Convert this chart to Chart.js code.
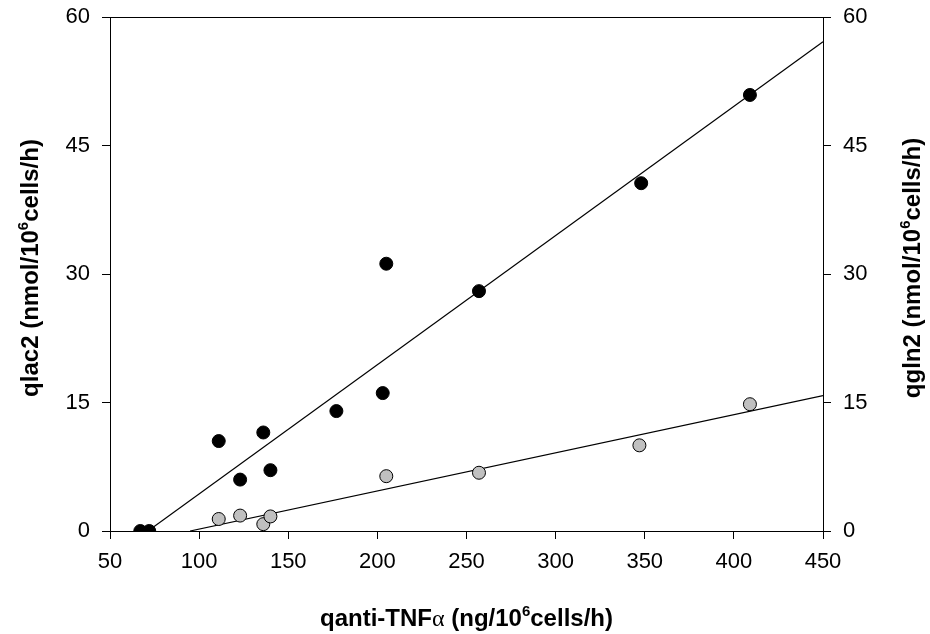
<!DOCTYPE html>
<html>
<head>
<meta charset="utf-8">
<script src="https://cdn.jsdelivr.net/npm/chart.js@4"></script>
<style>
  html, body { margin: 0; padding: 0; background: #fff; }
  #wrap { width: 930px; height: 634px; }
</style>
</head>
<body>
<div id="wrap"><canvas id="grafico" width="930" height="634"></canvas></div>
<script>
// dados
const xLac = [67, 72, 111, 123, 136, 140, 177, 203, 205, 257, 348, 409];
const yLac = [0, 0, 10.5, 6, 11.5, 7.1, 14, 16.1, 31.2, 28, 40.6, 50.9];
const xGln = [111, 123, 136, 140, 205, 257, 347, 409];
const yGln = [1.4, 1.8, 0.8, 1.7, 6.4, 6.8, 10, 14.8];

// retas de regressão (extremos)
const lacFitX = [71.3, 450];
const lacFitY = [0, 57.1];
const glnFitX = [94.9, 450];
const glnFitY = [0, 15.8];

const xTicks = [50, 100, 150, 200, 250, 300, 350, 400, 450];
const yTicks = [0, 15, 30, 45, 60];

const pares = (xs, ys) => xs.map((x, i) => ({ x, y: ys[i] }));

const fonteTick = { family: '"Liberation Sans", Arial, sans-serif', size: 22 };
const fonteTitulo = 'bold 24px "Liberation Sans", Arial, sans-serif';
const fonteSup = 'bold 15px "Liberation Sans", Arial, sans-serif';
const fonteAlfa = '24px "Liberation Serif", serif';

// texto com expoente
function textoRico(ctx, partes, x, y, rot) {
  ctx.save();
  ctx.translate(x, y);
  ctx.rotate(rot);
  ctx.fillStyle = '#000';
  ctx.textBaseline = 'alphabetic';
  ctx.textAlign = 'left';
  let total = 0;
  partes.forEach(p => { ctx.font = p.font; total += ctx.measureText(p.t).width; });
  let cx = -total / 2;
  partes.forEach(p => {
    ctx.font = p.font;
    ctx.fillText(p.t, cx, p.dy || 0);
    cx += ctx.measureText(p.t).width;
  });
  ctx.restore();
}

const titulos = {
  id: 'titulos',
  afterDraw(chart) {
    const { ctx, chartArea: a } = chart;
    ctx.save();
    ctx.strokeStyle = '#000';
    ctx.lineWidth = 1;
    ctx.strokeRect(a.left + 0.5, a.top + 0.5, a.right - a.left, a.bottom - a.top);
    ctx.restore();
    const meioY = (a.top + a.bottom) / 2 - 6;
    const meioX = (a.left + a.right) / 2;
    textoRico(ctx, [
      { t: 'qanti-TNF', font: fonteTitulo },
      { t: 'α', font: fonteAlfa },
      { t: ' (ng/10', font: fonteTitulo },
      { t: '6', font: fonteSup, dy: -10 },
      { t: 'cells/h)', font: fonteTitulo }
    ], meioX, 626, 0);
    textoRico(ctx, [
      { t: 'qlac2 (nmol/10', font: fonteTitulo },
      { t: '6', font: fonteSup, dy: -10 },
      { t: 'cells/h)', font: fonteTitulo }
    ], 38, meioY, -Math.PI / 2);
    textoRico(ctx, [
      { t: 'qgln2 (nmol/10', font: fonteTitulo },
      { t: '6', font: fonteSup, dy: -10 },
      { t: 'cells/h)', font: fonteTitulo }
    ], 920, meioY, -Math.PI / 2);
  }
};

const eixoY = (pos, largura) => ({
  type: 'linear',
  position: pos,
  min: 0,
  max: 60,
  afterBuildTicks: s => { s.ticks = yTicks.map(v => ({ value: v })); },
  ticks: { font: fonteTick, color: '#000', padding: 12 },
  grid: { drawOnChartArea: false, tickLength: 8, color: '#000' },
  border: { color: '#000', width: 1 },
  afterFit: s => { s.width = largura; s.paddingTop = 0; s.paddingBottom = 0; }
});

new Chart(document.getElementById('grafico').getContext('2d'), {
  type: 'scatter',
  data: {
    datasets: [
      {
        label: 'qlac2',
        data: pares(xLac, yLac),
        yAxisID: 'y',
        backgroundColor: '#000',
        borderColor: '#000',
        borderWidth: 1,
        pointRadius: 6.5,
        order: 0
      },
      {
        label: 'qgln2',
        data: pares(xGln, yGln),
        yAxisID: 'y2',
        backgroundColor: '#c0c0c0',
        borderColor: '#000',
        borderWidth: 1,
        pointRadius: 6.5,
        order: 0
      },
      {
        type: 'line',
        data: pares(lacFitX, lacFitY),
        yAxisID: 'y',
        borderColor: '#000',
        borderWidth: 1.2,
        pointRadius: 0,
        order: 1
      },
      {
        type: 'line',
        data: pares(glnFitX, glnFitY),
        yAxisID: 'y2',
        borderColor: '#000',
        borderWidth: 1.2,
        pointRadius: 0,
        order: 1
      }
    ]
  },
  options: {
    responsive: false,
    animation: false,
    layout: { padding: { top: 17, left: 0, right: 0, bottom: 0 } },
    scales: {
      x: {
        type: 'linear',
        min: 50,
        max: 450,
        afterBuildTicks: s => { s.ticks = xTicks.map(v => ({ value: v })); },
        ticks: { font: fonteTick, color: '#000', padding: 10, maxRotation: 0 },
        grid: { drawOnChartArea: false, tickLength: 8, color: '#000' },
        border: { color: '#000', width: 1 },
        afterFit: s => { s.height = 103; s.paddingLeft = 0; s.paddingRight = 0; }
      },
      y: eixoY('left', 110),
      y2: eixoY('right', 107)
    },
    plugins: {
      legend: { display: false },
      tooltip: { enabled: false }
    }
  },
  plugins: [titulos]
});
</script>
</body>
</html>
